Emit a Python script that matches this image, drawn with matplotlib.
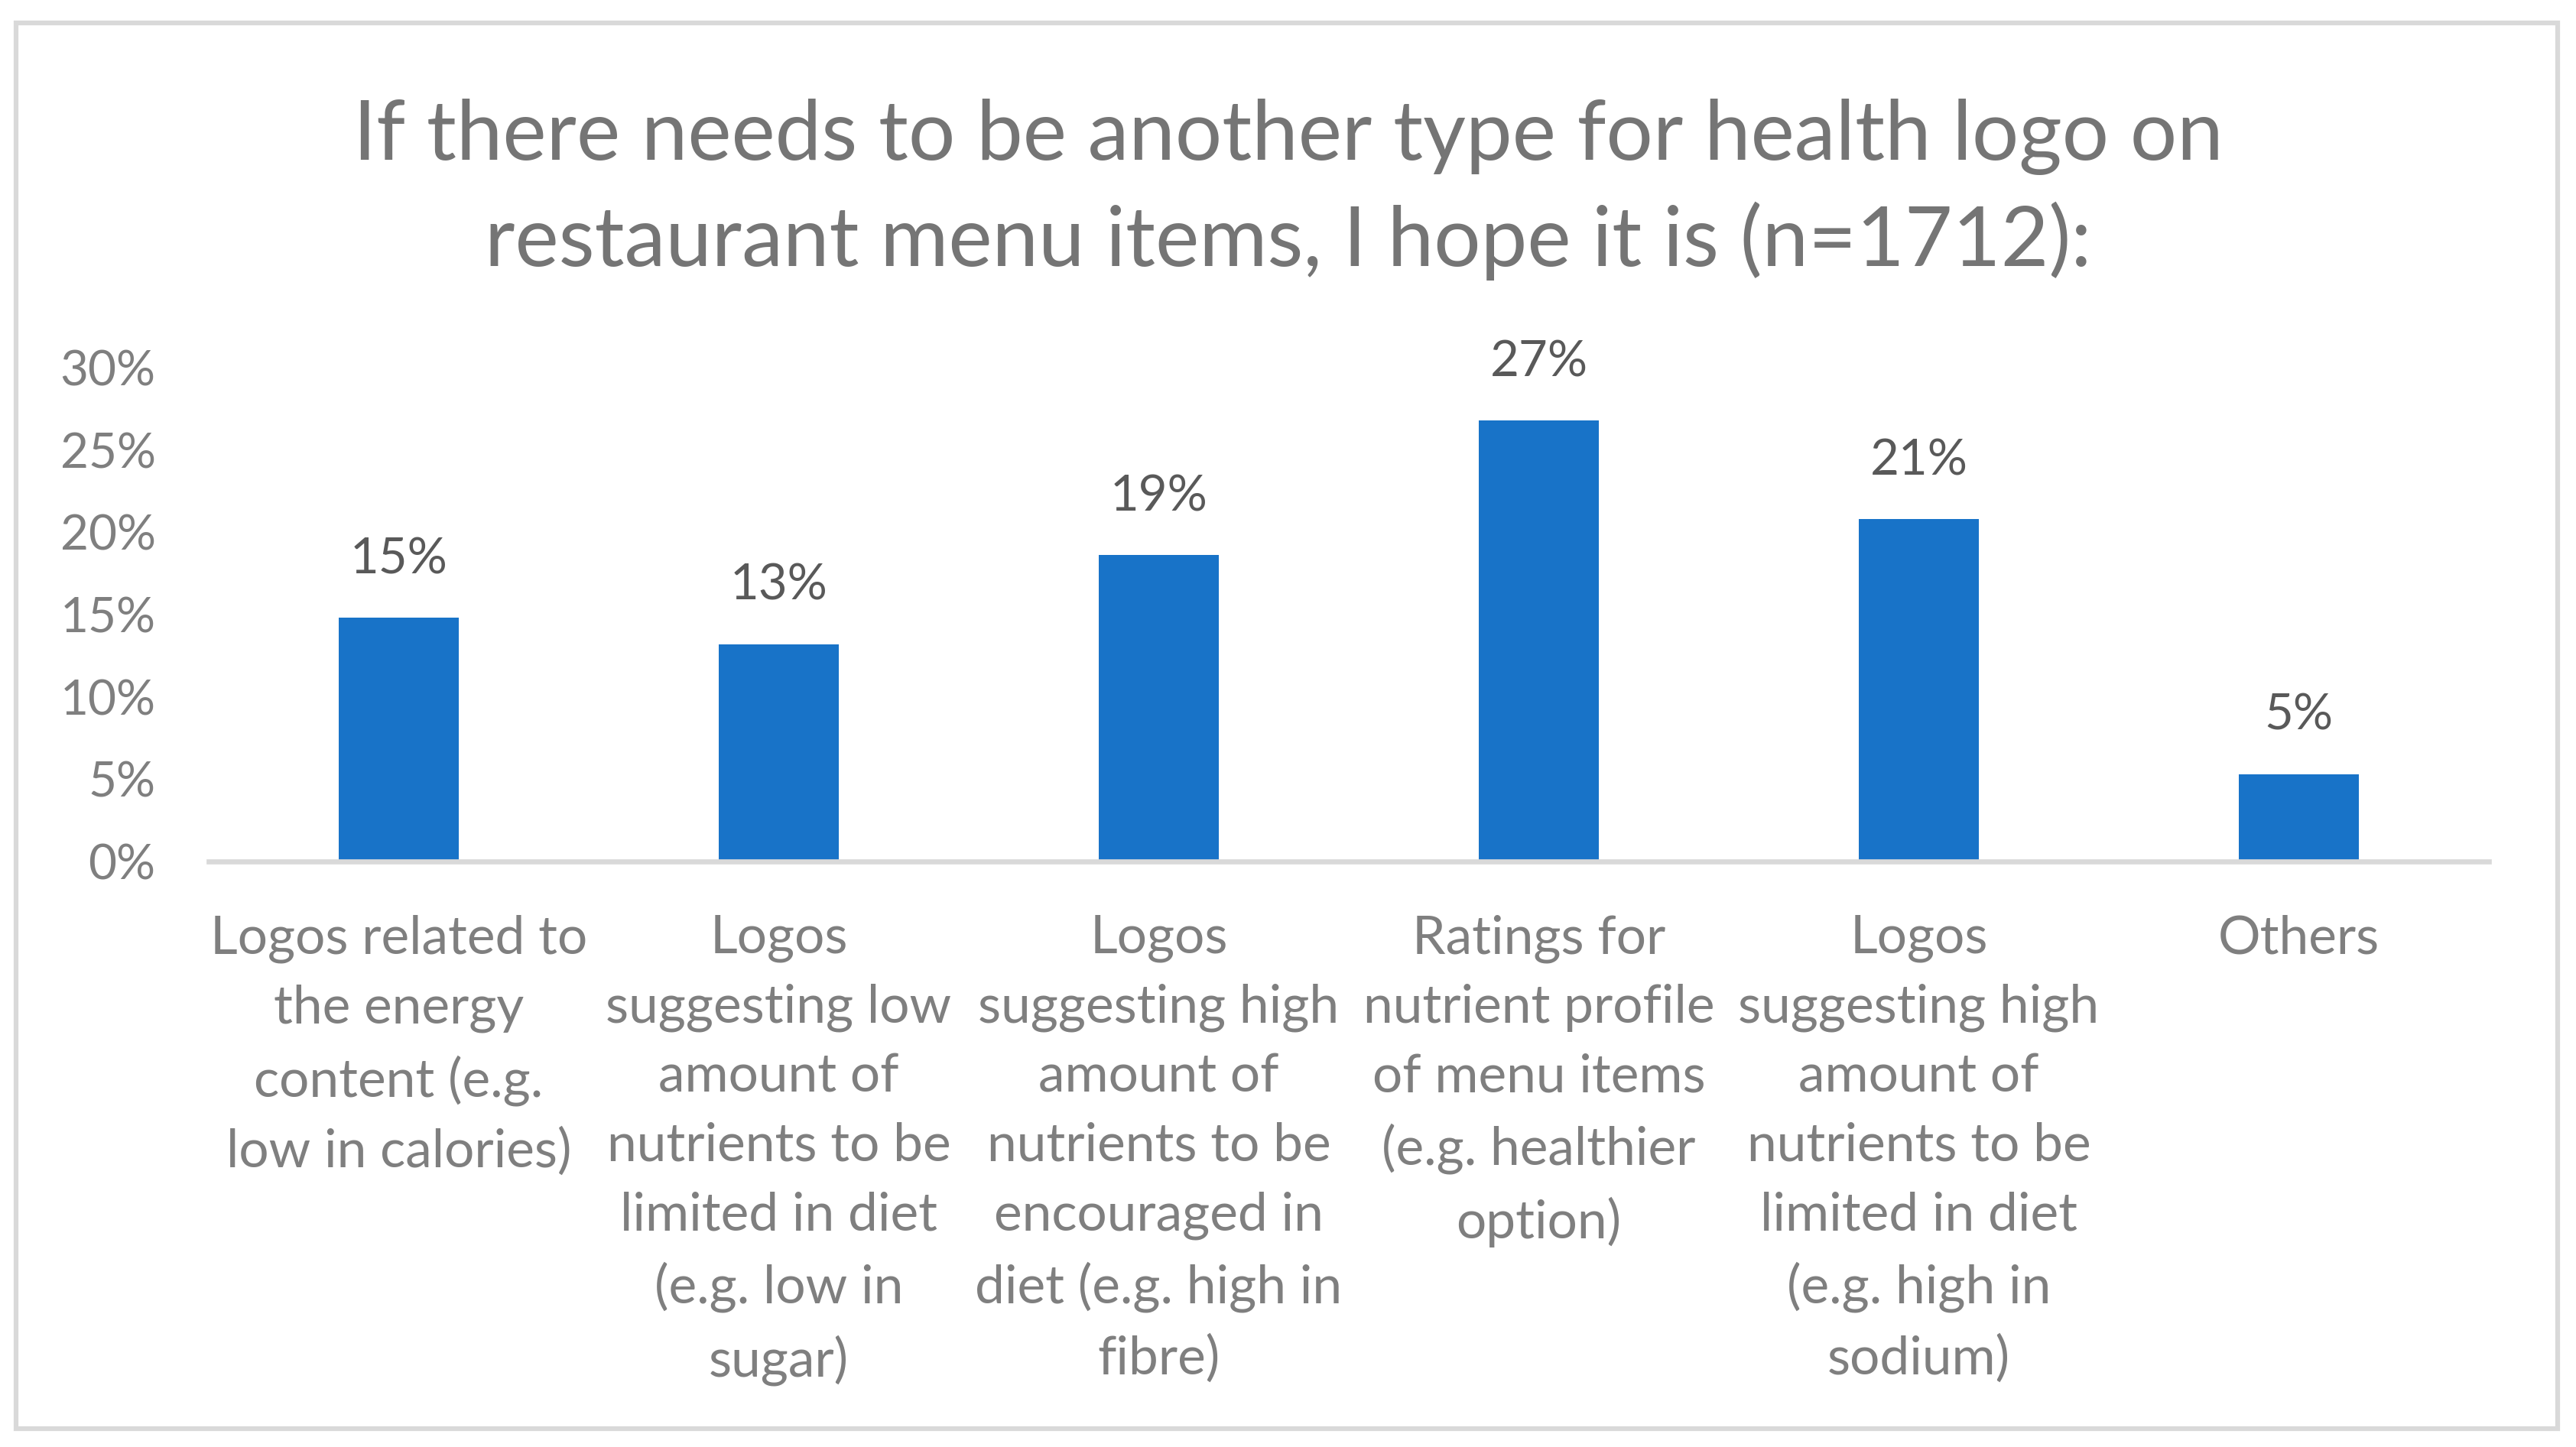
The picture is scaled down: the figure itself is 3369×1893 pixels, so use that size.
import matplotlib
matplotlib.use("Agg")
import matplotlib.pyplot as plt
from matplotlib.patches import Rectangle

categories = [
    "Logos related to\nthe energy\ncontent (e.g.\nlow in calories)",
    "Logos\nsuggesting low\namount of\nnutrients to be\nlimited in diet\n(e.g. low in\nsugar)",
    "Logos\nsuggesting high\namount of\nnutrients to be\nencouraged in\ndiet (e.g. high in\nfibre)",
    "Ratings for\nnutrient profile\nof menu items\n(e.g. healthier\noption)",
    "Logos\nsuggesting high\namount of\nnutrients to be\nlimited in diet\n(e.g. high in\nsodium)",
    "Others",
]
values = [14.8, 13.2, 18.6, 26.8, 20.8, 5.3]
value_labels = ["15%", "13%", "19%", "27%", "21%", "5%"]
yticks = [0, 5, 10, 15, 20, 25, 30]
ytick_labels = ["0%", "5%", "10%", "15%", "20%", "25%", "30%"]
title = "If there needs to be another type for health logo on\nrestaurant menu items, I hope it is (n=1712):"

plt.rcParams['font.family'] = ['Lato', 'DejaVu Sans']

W, H = 3369, 1893
fig = plt.figure(figsize=(W / 100, H / 100), dpi=100)
fig.patch.set_facecolor("white")

# outer border
fig.add_artist(Rectangle((21 / W, 1 - 1869 / H), (3345 - 21) / W, (1869 - 30) / H,
                         transform=fig.transFigure, fill=False,
                         edgecolor="#d9d9d9", linewidth=4.5))

ax = fig.add_axes([273 / W, 1 - 1127 / H, (3255 - 273) / W, (1127 - 481) / H])
x = list(range(len(categories)))
ax.bar(x, values, width=0.316, color="#1873C8", zorder=2)
ax.set_xlim(-0.5, len(categories) - 0.5)
ax.set_ylim(0, 30)

for s in ["top", "right", "left"]:
    ax.spines[s].set_visible(False)
ax.spines["bottom"].set_color("#d9d9d9")
ax.spines["bottom"].set_linewidth(4.8)

ax.set_yticks(yticks)
ax.set_yticklabels(ytick_labels)
ax.tick_params(axis="y", length=0, pad=50, labelsize=46, labelcolor="#7f7f7f")
ax.set_xticks(x)
ax.set_xticklabels(categories, linespacing=1.535)
ax.tick_params(axis="x", length=0, pad=50, labelsize=50, labelcolor="#7f7f7f")

for xi, v, lab in zip(x, values, value_labels):
    ax.annotate(lab, (xi, v), xytext=(0, 55), textcoords="offset points",
                ha="center", va="center", fontsize=47, color="#595959")

fig.text(0.5, 1 - 248 / H, title, ha="center", va="center", fontsize=78,
         color="#757575", linespacing=1.42)

fig.savefig("out.png", dpi=100)
